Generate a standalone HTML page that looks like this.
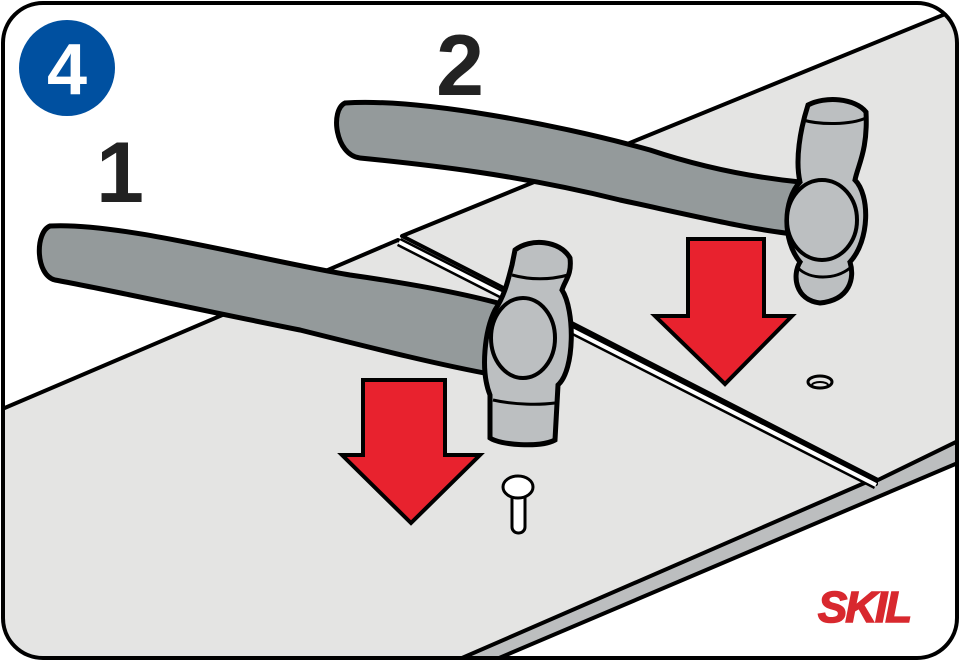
<!DOCTYPE html>
<html><head><meta charset="utf-8"><style>html,body{margin:0;padding:0;background:#fff}svg{display:block}</style></head><body>
<svg width="960" height="661" viewBox="0 0 960 661" xmlns="http://www.w3.org/2000/svg">
<defs><clipPath id="c"><rect x="3" y="3" width="954" height="655" rx="40"/></clipPath></defs>
<g clip-path="url(#c)">
<polygon points="455,661 960,438 960,462 492,661" fill="#bcbebf" stroke="#000" stroke-width="4" stroke-linejoin="round"/>
<polygon points="0,410 398,240 876,484 876,478 455,661 0,661" fill="#e4e4e3" stroke="#000" stroke-width="4" stroke-linejoin="round"/>
<polygon points="402,236 960,8 960,440 878,480" fill="#e4e4e3" stroke="#000" stroke-width="4" stroke-linejoin="round"/>
<line x1="399" y1="242" x2="876" y2="485" stroke="#000" stroke-width="9"/>
<line x1="399" y1="242" x2="876" y2="485" stroke="#fff" stroke-width="4"/>
<ellipse cx="820" cy="382" rx="12" ry="6" fill="none" stroke="#000" stroke-width="3"/>
<ellipse cx="820" cy="385" rx="8" ry="3" fill="none" stroke="#000" stroke-width="2"/>
<rect x="512" y="487" width="13" height="46" rx="6" fill="#fff" stroke="#000" stroke-width="3"/>
<ellipse cx="518" cy="487" rx="15" ry="11" fill="#fff" stroke="#000" stroke-width="3"/>
<polygon points="363,380 445,380 445,455 480,455 411,523 342,455 363,455" fill="#e8222e" stroke="#000" stroke-width="4"/>
<polygon points="688,239 764,239 764,316 792,316 725,384 655,316 688,316" fill="#e8222e" stroke="#000" stroke-width="4"/>
<path d="M345,103 C420,98 560,125 650,150 C710,170 760,178 800,182 L805,235 C760,232 690,215 620,200 C520,175 430,165 360,158 C335,155 330,110 345,103 Z" fill="#949a9b" stroke="#000" stroke-width="5"/>
<path d="M808,105 C825,96 855,98 866,112 C868,150 858,165 855,180 C870,195 870,240 850,262 C855,278 850,300 820,303 C795,300 792,275 800,262 C782,240 783,200 800,182 C795,160 800,130 808,105 Z" fill="#bcbfc1" stroke="#000" stroke-width="5"/>
<ellipse cx="822" cy="220" rx="35" ry="40" fill="#bcbfc1" stroke="#000" stroke-width="4"/>
<path d="M798,268 C810,280 835,280 850,268" fill="none" stroke="#000" stroke-width="3"/>
<path d="M803,120 C820,125 850,125 866,118" fill="none" stroke="#000" stroke-width="3"/>
<path d="M50,226 C120,222 260,260 350,275 C420,285 470,295 505,305 L495,375 C440,365 380,350 300,330 C200,310 110,290 55,280 C35,275 35,232 50,226 Z" fill="#949a9b" stroke="#000" stroke-width="5"/>
<path d="M515,250 C530,238 560,240 570,258 C572,275 565,280 562,290 C575,310 575,370 558,385 L555,440 C540,448 500,445 490,438 L490,395 C480,370 485,330 495,310 C505,295 508,280 512,265 Z" fill="#bcbfc1" stroke="#000" stroke-width="5"/>
<ellipse cx="523" cy="338" rx="32" ry="40" fill="#bcbfc1" stroke="#000" stroke-width="4"/>
<path d="M493,400 C515,405 540,405 555,403" fill="none" stroke="#000" stroke-width="3"/>
<path d="M512,275 C530,280 550,280 568,275" fill="none" stroke="#000" stroke-width="3"/>
</g>
<rect x="3" y="3" width="954" height="655" rx="40" fill="none" stroke="#000" stroke-width="4"/>
<circle cx="67" cy="68" r="48" fill="#0050a0"/>
<text x="67" y="94" font-family="Liberation Sans, sans-serif" font-weight="bold" font-size="72" fill="#fff" text-anchor="middle">4</text>
<text x="120" y="202" font-family="Liberation Sans, sans-serif" font-weight="bold" font-size="86" fill="#222" text-anchor="middle">1</text>
<text x="460" y="95" font-family="Liberation Sans, sans-serif" font-weight="bold" font-size="86" fill="#222" text-anchor="middle">2</text>
<text x="864" y="622" font-family="Liberation Sans, sans-serif" font-weight="bold" font-style="italic" font-size="44" fill="#d8282e" text-anchor="middle" letter-spacing="-2" stroke="#d8282e" stroke-width="1.5">SKIL</text>
</svg>
</body></html>
